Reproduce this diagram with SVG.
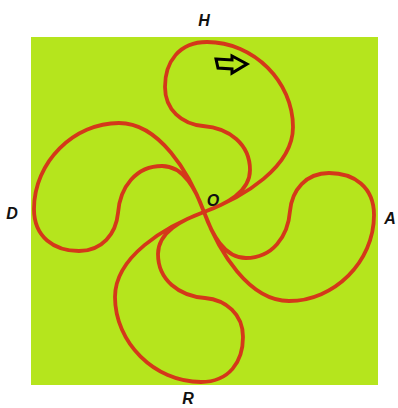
<svg xmlns="http://www.w3.org/2000/svg" xmlns:xlink="http://www.w3.org/1999/xlink" width="398" height="408" viewBox="0 0 398 408">
<style>
.petal{fill:none;stroke:#d4381a;stroke-width:3.8;stroke-linejoin:round}
.lbl{font-family:"Liberation Sans",Arial,sans-serif;font-weight:bold;font-style:italic;font-size:16px;fill:#111;text-anchor:middle}
</style>
<defs>
<path id="petal" d="M0,0 C40,-15 89,-45 89,-85 C89,-130 50,-170 3,-170 C-25,-170 -39,-150 -39,-125 C-39,-102 -22,-88 -1,-86 C25,-84 46,-68 46,-42 C46,-20 22,-8 0,0 Z"/>
</defs>
<rect x="0" y="0" width="398" height="408" fill="#ffffff"/>
<rect x="31" y="37" width="347" height="348" fill="#b5e51d"/>
<g id="petal-H" transform="translate(204,212)"><use xlink:href="#petal" class="petal"/></g>
<g id="petal-A" transform="translate(204,212) rotate(90)"><use xlink:href="#petal" class="petal"/></g>
<g id="petal-R" transform="translate(204,212) rotate(180)"><use xlink:href="#petal" class="petal"/></g>
<g id="petal-D" transform="translate(204,212) rotate(270)"><use xlink:href="#petal" class="petal"/></g>
<g id="arrow"><polygon points="216,59 232,60 232,56 247,64 232,73 232,69 218,68" fill="none" stroke="#000" stroke-width="3" stroke-linejoin="miter"/></g>
<g id="labels">
<text class="lbl" x="204" y="26">H</text>
<text class="lbl" x="12" y="219">D</text>
<text class="lbl" x="390" y="224">A</text>
<text class="lbl" x="188" y="404">R</text>
<text class="lbl" x="213" y="206">O</text>
</g>
</svg>
